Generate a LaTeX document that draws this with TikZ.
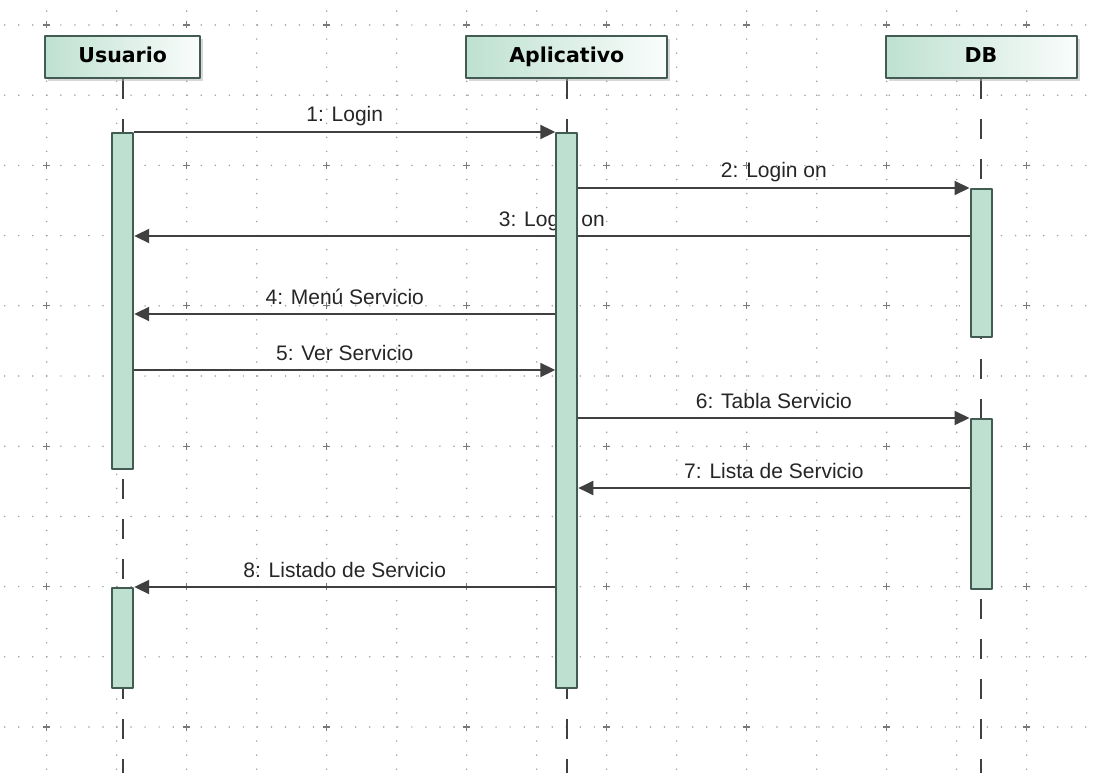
\documentclass[tikz,border=0pt]{standalone}
\usepackage{fontspec}
\setmainfont{Liberation Sans}
\newfontfamily\headfont{DejaVu Sans}
\usetikzlibrary{arrows.meta, shadows}
\pgfdeclarelayer{bg}
\pgfdeclarelayer{msg}
\pgfsetlayers{bg,msg,main}

\definecolor{barfill}{RGB}{190,224,209}
\definecolor{hdrfill}{RGB}{190,225,209}
\definecolor{edge}{RGB}{66,92,83}
\definecolor{msgline}{RGB}{64,64,64}
\definecolor{griddot}{RGB}{160,160,160}

\tikzset{
  header/.style={draw=edge, line width=2pt, left color=hdrfill, right color=hdrfill!8,
    minimum height=42pt, inner sep=0pt, text height=14.5pt, text depth=3.5pt,
    font=\headfont\bfseries\fontsize{20.5}{24}\selectfont,
    drop shadow={shadow xshift=3pt, shadow yshift=-3pt, fill=black!30}},
  bar/.style={draw=edge, line width=2pt, fill=barfill, minimum width=21pt, inner sep=0pt, anchor=north},
  lifeline/.style={draw=msgline, line width=2pt, dash pattern=on 20pt off 20pt},
  msg/.style={draw=msgline, line width=2pt, -{Triangle[length=15pt, width=14pt]}},
  msglabel/.style={anchor=base, yshift=10pt, text=black!85, font=\fontsize{21}{25}\selectfont},
  gridline/.style={griddot, line width=1.7pt, line cap=round, dash pattern=on 0pt off 14.04pt}
}

\begin{document}
\begin{tikzpicture}[x=1pt, y=-1pt, line join=round]
  \useasboundingbox (0,0) rectangle (1096,773);
  % draw grid
  \begin{pgfonlayer}{bg}
    \fill[white] (0,0) rectangle (1096,773);
    \foreach \k in {0,...,10}
      \draw[gridline] (4.7, 25+70.2*\k) -- (1096, 25+70.2*\k);
    \foreach \k in {0,...,14}
      \draw[gridline] (46.7+70*\k, 11) -- (46.7+70*\k, 773);
    \foreach \i in {0,...,7}
      \foreach \j in {0,...,5}
        \draw[griddot!75!black, line width=1.3pt] (46.7+140*\i-3.5, 25+140.4*\j) -- ++(7,0) (46.7+140*\i, 25+140.4*\j-3.5) -- ++(0,7);
  \end{pgfonlayer}
  % draw header boxes
  \node[header, minimum width=155pt] (usuario) at (122.7, 57) {Usuario};
  \node[header, minimum width=201pt] (aplicativo) at (566.8, 57) {Aplicativo};
  \node[header, minimum width=191pt] (db) at (981, 57) {DB};
  % draw lifelines
  \begin{pgfonlayer}{bg}
    \draw[lifeline] (usuario.south) -- (usuario.south |- 0,773);
    \draw[lifeline] (aplicativo.south) -- (aplicativo.south |- 0,773);
    \draw[lifeline] (db.south) -- (db.south |- 0,773);
  \end{pgfonlayer}
  % draw activation bars
  \node[bar, minimum height=336pt] (usuario1) at (122.7, 132) {};
  \node[bar, minimum height=100pt] (usuario2) at (122.7, 587) {};
  \node[bar, minimum height=555pt] (app1) at (566.8, 132) {};
  \node[bar, minimum height=148pt] (db1) at (981, 188) {};
  \node[bar, minimum height=170pt] (db2) at (981, 418) {};
  % message heights
  \coordinate (m1) at (0, 132);
  \coordinate (m2) at (0, 188);
  \coordinate (m3) at (0, 236);
  \coordinate (m4) at (0, 314);
  \coordinate (m5) at (0, 370);
  \coordinate (m6) at (0, 418);
  \coordinate (m7) at (0, 488);
  \coordinate (m8) at (0, 587);
  % draw messages
  \begin{pgfonlayer}{msg}
    \draw[msg] (usuario1.east |- m1) -- node[msglabel] {1: Login} (app1.west |- m1);
    \draw[msg] (app1.east |- m2) -- node[msglabel] {2: Login on} (db1.west |- m2);
    \draw[msg] (db1.west |- m3) -- node[msglabel] {3: Login on} (usuario1.east |- m3);
    \draw[msg] (app1.west |- m4) -- node[msglabel] {4: Menú Servicio} (usuario1.east |- m4);
    \draw[msg] (usuario1.east |- m5) -- node[msglabel] {5: Ver Servicio} (app1.west |- m5);
    \draw[msg] (app1.east |- m6) -- node[msglabel] {6: Tabla Servicio} (db2.west |- m6);
    \draw[msg] (db2.west |- m7) -- node[msglabel] {7: Lista de Servicio} (app1.east |- m7);
    \draw[msg] (app1.west |- m8) -- node[msglabel] {8: Listado de Servicio} (usuario2.east |- m8);
  \end{pgfonlayer}
\end{tikzpicture}
\end{document}
